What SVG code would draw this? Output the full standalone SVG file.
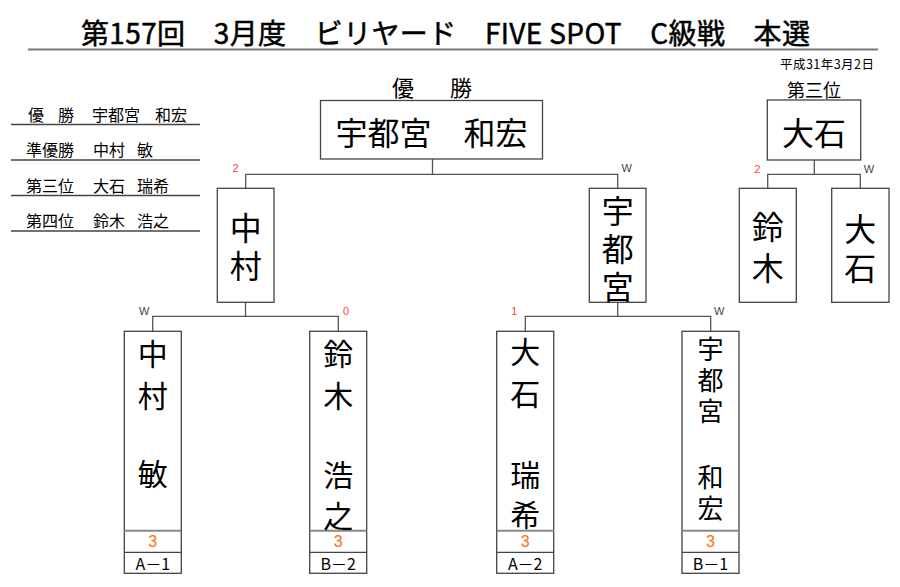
<svg xmlns="http://www.w3.org/2000/svg" width="900" height="587" viewBox="0 0 900 587">
<style>
.jp{font-family:"Noto Sans CJK JP","Liberation Sans",sans-serif;fill:#000}
.box{fill:#fff;stroke:#444;stroke-width:1.3}
.ln{fill:none;stroke:#555;stroke-width:1.3}
.vt{writing-mode:vertical-rl;text-anchor:start}
.v30{font-size:30px}
.v32{font-size:32px}
.v26{font-size:26px}
.h32{font-size:32px;text-anchor:middle}
.lst{font-size:16px}
.sc{font-family:"Liberation Sans",Arial,sans-serif;font-size:16px;fill:#FF6A13;text-anchor:middle}
.lb{font-size:16px;text-anchor:middle}
.r{font-family:"Liberation Sans",Arial,sans-serif;font-size:11px;fill:#FF4040;text-anchor:middle}
.w{font-family:"Liberation Sans",Arial,sans-serif;font-size:11px;fill:#444;text-anchor:middle}
</style>
<rect width="900" height="587" fill="#fff"/>
<g id="title">
<text class="jp" x="81" y="44" font-size="28" stroke="#000" stroke-width="0.5" textLength="729" lengthAdjust="spacing">第157回　3月度　ビリヤード　FIVE SPOT　C級戦　本選</text>
<line x1="28" y1="49.5" x2="878" y2="49.5" stroke="#777" stroke-width="2"/>
<text class="jp" x="780" y="69" font-size="12.5" textLength="94" lengthAdjust="spacing">平成31年3月2日</text>
</g>
<g id="results">
<g class="jp lst">
<text x="28" y="121">優</text><text x="58" y="121">勝</text><text x="92" y="121">宇都宮</text><text x="155" y="121">和宏</text>
<text x="26" y="156">準優勝</text><text x="93" y="156">中村</text><text x="137" y="156">敏</text>
<text x="26" y="192">第三位</text><text x="93" y="192">大石</text><text x="137" y="192">瑞希</text>
<text x="26" y="227">第四位</text><text x="93" y="227">鈴木</text><text x="137" y="227">浩之</text>
</g>
<g stroke="#444" stroke-width="1.3">
<line x1="11" y1="124.5" x2="200" y2="124.5"/>
<line x1="11" y1="160" x2="200" y2="160"/>
<line x1="11" y1="195.5" x2="200" y2="195.5"/>
<line x1="11" y1="231" x2="200" y2="231"/>
</g>
</g>
<g id="connectors">
<path class="ln" d="M432.5 159V174.3M245.7 188.3V174.3H617.7V188.3"/>
<path class="ln" d="M245.5 302.3V316.3M152.7 331.3V316.3H338.3V331.3"/>
<path class="ln" d="M617.7 302.3V316.3M525.3 331.3V316.3H710.7V331.3"/>
<path class="ln" d="M814.3 160V174.3M767.7 188.3V174.3H860.3V188.3"/>
<text class="r" x="235.5" y="172">2</text>
<text class="w" x="626.7" y="172">W</text>
<text class="w" x="144.3" y="315">W</text>
<text class="r" x="346" y="315">0</text>
<text class="r" x="514.3" y="315">1</text>
<text class="w" x="719.3" y="315">W</text>
<text class="r" x="757.3" y="173">2</text>
<text class="w" x="869" y="173">W</text>
</g>
<g id="champion">
<text class="jp" x="392" y="96" font-size="22">優</text>
<text class="jp" x="450" y="96" font-size="22">勝</text>
<rect class="box" x="320.5" y="100.5" width="222" height="58.5"/>
<text class="jp h32" x="431.5" y="145">宇都宮　和宏</text>
</g>
<g id="third">
<text class="jp" x="814" y="97" font-size="18" text-anchor="middle">第三位</text>
<rect class="box" x="767.3" y="100" width="93.4" height="60"/>
<text class="jp h32" x="814" y="145">大石</text>
</g>
<g id="semi-nakamura">
<rect class="box" x="217.3" y="188.3" width="56.7" height="114"/>
<text class="jp vt v32" x="245.7"><tspan y="212">中</tspan><tspan y="250">村</tspan></text>
</g>
<g id="semi-utsunomiya">
<rect class="box" x="589.3" y="188.3" width="56.7" height="114"/>
<text class="jp vt v32" x="617.7"><tspan y="195">宇</tspan><tspan y="233">都</tspan><tspan y="271">宮</tspan></text>
</g>
<g id="third-suzuki">
<rect class="box" x="739.3" y="188.3" width="57" height="114"/>
<text class="jp vt v32" x="767.8"><tspan y="211">鈴</tspan><tspan y="252">木</tspan></text>
</g>
<g id="third-oishi">
<rect class="box" x="831.7" y="188.3" width="57.3" height="114"/>
<text class="jp vt v32" x="860.3"><tspan y="213">大</tspan><tspan y="252">石</tspan></text>
</g>
<g id="p-a1">
<rect class="box" x="124.3" y="331.3" width="57" height="242"/>
<line x1="124.3" y1="530.7" x2="181.3" y2="530.7" stroke="#888" stroke-width="2"/>
<line x1="124.3" y1="552.3" x2="181.3" y2="552.3" stroke="#444" stroke-width="1.3"/>
<text class="jp vt v30" x="152.8"><tspan y="339">中</tspan><tspan y="381">村</tspan><tspan y="459">敏</tspan></text>
<text class="sc" x="152.8" y="547">3</text>
<text class="jp lb" x="152.8" y="570">A－1</text>
</g>
<g id="p-b2">
<rect class="box" x="309.7" y="331.3" width="57" height="242"/>
<line x1="309.7" y1="530.7" x2="366.7" y2="530.7" stroke="#888" stroke-width="2"/>
<line x1="309.7" y1="552.3" x2="366.7" y2="552.3" stroke="#444" stroke-width="1.3"/>
<text class="jp vt v30" x="338.2"><tspan y="339">鈴</tspan><tspan y="381">木</tspan><tspan y="460">浩</tspan><tspan y="501">之</tspan></text>
<text class="sc" x="338.2" y="547">3</text>
<text class="jp lb" x="338.2" y="570">B－2</text>
</g>
<g id="p-a2">
<rect class="box" x="496.7" y="331.3" width="57" height="242"/>
<line x1="496.7" y1="530.7" x2="553.7" y2="530.7" stroke="#888" stroke-width="2"/>
<line x1="496.7" y1="552.3" x2="553.7" y2="552.3" stroke="#444" stroke-width="1.3"/>
<text class="jp vt v30" x="525.2"><tspan y="337">大</tspan><tspan y="379">石</tspan><tspan y="460">瑞</tspan><tspan y="500">希</tspan></text>
<text class="sc" x="525.2" y="547">3</text>
<text class="jp lb" x="525.2" y="570">A－2</text>
</g>
<g id="p-b1">
<rect class="box" x="682" y="331.3" width="57" height="242"/>
<line x1="682" y1="530.7" x2="739" y2="530.7" stroke="#888" stroke-width="2"/>
<line x1="682" y1="552.3" x2="739" y2="552.3" stroke="#444" stroke-width="1.3"/>
<text class="jp vt v26" x="710.5"><tspan y="336">宇</tspan><tspan y="367">都</tspan><tspan y="398">宮</tspan><tspan y="464">和</tspan><tspan y="495">宏</tspan></text>
<text class="sc" x="710.5" y="547">3</text>
<text class="jp lb" x="710.5" y="570">B－1</text>
</g>
</svg>
